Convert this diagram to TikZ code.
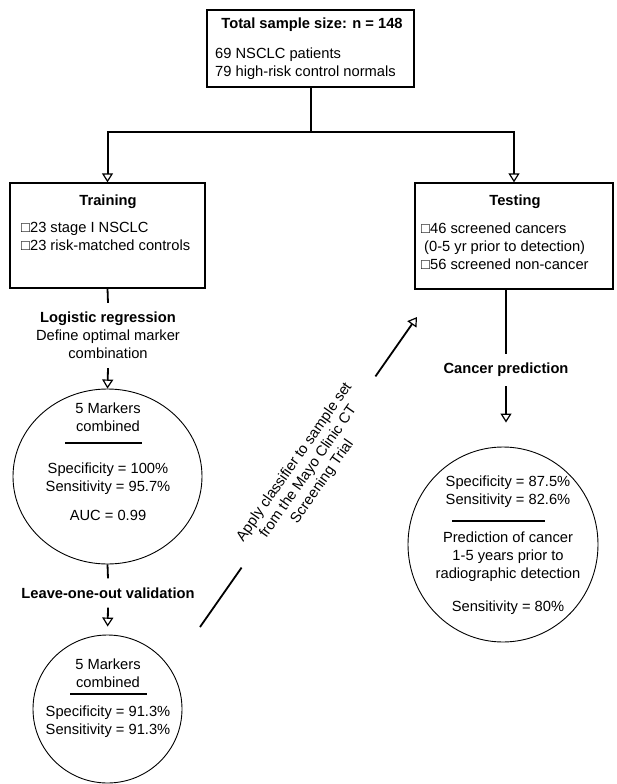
\documentclass[tikz,border=0pt]{standalone}
\usepackage{fontspec}
\setmainfont{Liberation Sans}
\usetikzlibrary{arrows.meta,positioning,shapes.geometric,calc}

\begin{document}
\begin{tikzpicture}[
  x=1pt, y=-1pt,
  font=\fontsize{14.7}{18}\selectfont,
  box/.style  ={draw, line width=1.3pt, inner sep=0pt},
  head/.style ={font=\fontsize{14.7}{18}\selectfont\bfseries, inner sep=0pt},
  body/.style ={align=left, inner sep=0pt, anchor=west},
  stage/.style={align=center, inner ysep=9pt, inner xsep=2pt},
  inner/.style={align=center, inner sep=0pt},
  oval/.style ={draw, ellipse, line width=0.9pt, inner sep=0pt},
  tip/.style  ={-{Triangle[open, length=9pt, width=11pt, line width=1.2pt]}},
  tree/.style ={line width=2pt},
  ln/.style   ={line width=1.8pt},
  ar/.style   ={ln, tip},
  bar/.style  ={line width=2.2pt},
]
\useasboundingbox (0,0) rectangle (617,784);

% ---------------------------------------------------------------- sample
\node[box, minimum width=207pt, minimum height=77pt] (total) at (310.5,48.5) {};
\node[head] (totalhead) at (312,25) {Total sample size: n = 148};
\node[body] (totalbody) at (215,64) {69 NSCLC patients\\79 high-risk control normals};

% ---------------------------------------------------------------- training / testing
\node[box, minimum width=195pt, minimum height=105pt] (train) at (107.5,235.5) {};
\node[head] (trainhead) at (108,202) {Training};
\node[body] (trainbody) at (21,236.5) {□23 stage I NSCLC\\□23 risk-matched controls};

\node[box, minimum width=198pt, minimum height=106pt] (test) at (514,236) {};
\node[head] (testhead) at (515,202) {Testing};
\node[body] (testbody) at (421,246.5)
  {□46 screened cancers\\\hspace*{3pt}(0-5 yr prior to detection)\\□56 screened non-cancer};

% ---------------------------------------------------------------- left column
\node[stage] (logit) at (108,335.5)
  {\textbf{Logistic regression}\\Define optimal marker\\combination};

\node[oval, minimum width=189pt, minimum height=175pt] (comb) at (107.5,476.5) {};
\node[inner] (combname)  at (108,417) {5 Markers\\combined};
\draw[bar] (65,443) -- (142,443);
\node[inner] (combstats) at (108,479) {Specificity = 100\%\\Sensitivity = 95.7\%};
\node[inner] (combauc)   at (108,515) {AUC = 0.99};

\node[stage] (loov) at (108,593) {\textbf{Leave-one-out validation}};

\node[oval, minimum width=149pt, minimum height=148pt] (loo) at (107.5,709) {};
\node[inner] (looname)  at (108,673) {5 Markers\\combined};
\draw[bar] (70,694) -- (147,694);
\node[inner] (loostats) at (108,721.5) {Specificity = 91.3\%\\Sensitivity = 91.3\%};

% ---------------------------------------------------------------- right column
\node[stage] (cpred) at (506,370) {\textbf{Cancer prediction}};

\node[oval, minimum width=190pt, minimum height=195pt] (pred) at (503,544.5) {};
\node[inner] (predstats) at (508,492) {Specificity = 87.5\%\\Sensitivity = 82.6\%};
\draw[bar] (452,521) -- (545,521);
\node[inner] (predtext)  at (508,556.5) {Prediction of cancer\\1-5 years prior to\\radiographic detection};
\node[inner] (predsens)  at (508,608) {Sensitivity = 80\%};

% ---------------------------------------------------------------- apply classifier
\coordinate (applyfrom) at (200,627);
\coordinate (applyto)   at (417,317);
\node[inner, rotate=55, minimum width=233pt, font=\fontsize{14.7}{17}\selectfont] (apply)
  at ($(applyfrom)!0.5!(applyto)$)
  {Apply classifier to sample set\\from the Mayo Clinic CT\\Screening Trial};

% ---------------------------------------------------------------- arrows
\draw[tree] (total.south) -- ++(0,44) coordinate (split);
\draw[tree, tip] (split) -| (train.north);
\draw[tree, tip] (split) -| (test.north);

\draw[ln] (train.south) -- (logit.north);
\draw[ar] (logit.south) -- (comb.north);
\draw[ln] (comb.south)  -- (loov.north);
\draw[ar, shorten >=8pt] (loov.south) -- (loo.north);

\draw[ln] (test.south |- test.south) ++(-8,0) coordinate (testfoot) -- (testfoot |- cpred.north);
\draw[ar, shorten >=24pt] (cpred.south -| testfoot) -- (testfoot |- pred.north);

\draw[ln] (applyfrom)  -- (apply.west);
\draw[ar] (apply.east) -- (applyto);

\end{tikzpicture}
\end{document}
